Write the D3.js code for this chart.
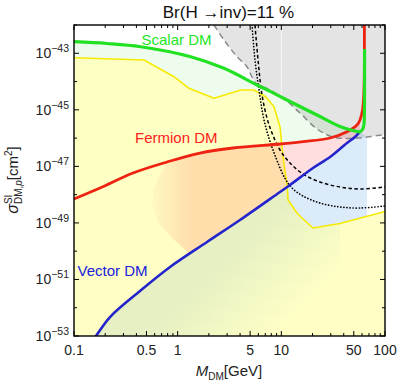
<!DOCTYPE html>
<html><head><meta charset="utf-8">
<script src="https://cdn.jsdelivr.net/npm/d3@7"></script>
<style>
body{margin:0;background:#fff}
svg{display:block}
text{font-family:"Liberation Sans",Arial,sans-serif}
</style>
</head><body>
<svg id="c" width="399" height="382"></svg>
<script>
// ---------------- data (mass in GeV, log10 of sigma in cm^2) ----------------
const scalarMass     = [0.1, 0.208, 0.44, 1.336, 2.80, 5.83, 8.50, 10.38, 22.1, 36.8, 49.1, 57.4, 61.0, 62.7, 63.3, 63.5, 63.5];
const scalarLogSigma = [-42.591, -42.654, -42.768, -43.121, -43.532, -44.122, -44.416, -44.582, -45.184, -45.590, -45.732, -45.774, -45.679, -45.502, -45.077, -44.299, -42.849];

const fermionMass     = [0.1, 0.178, 0.371, 0.789, 1.642, 3.42, 9.71, 16.18, 29.5, 43.0, 53.7, 57.4, 60.7, 62.0, 63.0, 63.3, 63.3];
const fermionLogSigma = [-48.155, -47.766, -47.235, -46.846, -46.528, -46.351, -46.209, -46.128, -45.997, -45.774, -45.537, -45.360, -45.007, -44.653, -43.946, -42.884, -42.0];

const vectorMass     = [0.1408, 0.163, 0.2225, 0.433, 0.844, 1.919, 3.99, 9.71, 12.12, 20.2, 29.5, 43.0, 51.3, 57.4];
const vectorLogSigma = [-53.32, -53.0, -52.329, -51.409, -50.560, -49.676, -48.898, -47.907, -47.660, -47.058, -46.669, -46.174, -45.962, -45.774];

// yellow contour
const yellowMass     = [0.1, 0.473, 0.922, 1.286, 2.24, 4.06, 5.45, 7.07, 8.50, 9.71, 10.15, 10.8, 11.42, 11.6, 14.17, 15.48, 20.2, 36.8, 100];
const yellowLogSigma = [-43.157, -43.238, -43.829, -44.239, -44.593, -44.299, -44.299, -44.536, -44.890, -45.608, -46.305, -47.129, -47.720, -48.190, -48.650, -48.792, -49.181, -49.022, -48.597];

// gray dashed exclusion boundary
const grayMass     = [2.24, 2.80, 3.735, 4.665, 5.10, 5.70, 7.27, 10.38, 15.14, 22.1, 31.5, 45.97, 67.0, 100];
const grayLogSigma = [-42.0, -42.531, -43.121, -43.475, -43.769, -44.062, -44.246, -44.582, -45.113, -45.679, -45.962, -46.015, -45.962, -45.873];

// black dotted and dashed curves
const dottedMass     = [5.21, 5.57, 6.09, 6.65, 7.44, 8.89, 10.8, 12.67, 16.18, 23.6, 36.8, 57.4, 100];
const dottedLogSigma = [-42.0, -43.238, -44.299, -45.184, -45.891, -46.705, -47.412, -47.766, -48.049, -48.297, -48.438, -48.473, -48.403];
const dashedMass     = [5.57, 5.96, 6.51, 7.27, 8.13, 9.71, 12.12, 16.18, 23.6, 36.8, 57.4, 100];
const dashedLogSigma = [-42.0, -43.238, -44.476, -45.290, -45.820, -46.421, -46.881, -47.270, -47.553, -47.730, -47.801, -47.730];

// extents of scatter regions
const fermionEdgeMass     = [1.3, 0.882, 0.646, 0.566, 0.578, 0.675];
const fermionEdgeLogSigma = [-50.08, -49.535, -48.969, -48.367, -47.837, -47.306];
const vectorYellowCross   = [11.45, -47.716];
const vectorRightEdgeMass = 67.0;
const vectorRightEdgeLogSigma = [-45.962, -48.767];
const vectorFadeMass = 36.8;

// ticks
const xMajorTicks = [0.1, 0.5, 1, 5, 10, 50, 100];
const xTickLabels = ["0.1", "0.5", "1", "5", "10", "50", "100"];
const xMinorTicks = [0.2,0.3,0.4,0.6,0.7,0.8,0.9,2,3,4,6,7,8,9,20,30,40,60,70,80,90];
const yLabelExps  = [-43, -45, -47, -49, -51, -53];
const yMinorExps  = [-42, -44, -46, -48, -50, -52];

const title = "Br(H \u2192inv)=11 %";

// ---------------- drawing ----------------
const L = 74, R = 385, T = 25, B = 336;
const svg = d3.select("#c");
const x = d3.scaleLog().domain([0.1, 100]).range([L, R]);
const y = d3.scaleLog().domain([1e-53, 1e-42]).range([B, T]);
const pw = v => Math.pow(10, v);
const pts = (ms, ls) => ms.map((m, i) => [x(m), y(pw(ls[i]))]);
const cr = d3.curveCatmullRom.alpha(0.5);
const lin = d3.curveLinear;
const seg = (p, c) => d3.line().curve(c)(p);
const region = parts => parts.map((p, i) => { const s = seg(p.pts, p.curve); return i ? "L" + s.slice(1) : s; }).join("") + "Z";

const defs = svg.append("defs");
defs.append("clipPath").attr("id", "clip").append("rect")
  .attr("x", L).attr("y", T).attr("width", R - L).attr("height", B - T);
const grad = defs.append("linearGradient").attr("id", "vg").attr("gradientUnits", "userSpaceOnUse")
  .attr("x1", 238).attr("y1", 248).attr("x2", 300).attr("y2", 312);
grad.append("stop").attr("offset", 0).attr("stop-color", "#e6f0fc").attr("stop-opacity", 1);
grad.append("stop").attr("offset", 1).attr("stop-color", "#e6f0fc").attr("stop-opacity", 0);
const fgrad = defs.append("linearGradient").attr("id", "fg").attr("gradientUnits", "userSpaceOnUse")
  .attr("x1", 150).attr("y1", 0).attr("x2", 190).attr("y2", 0);
fgrad.append("stop").attr("offset", 0).attr("stop-color", "#ffdedf").attr("stop-opacity", 0.15);
fgrad.append("stop").attr("offset", 1).attr("stop-color", "#ffdedf").attr("stop-opacity", 1);

const g = svg.append("g").attr("clip-path", "url(#clip)");

const S = pts(scalarMass, scalarLogSigma);
const F = pts(fermionMass, fermionLogSigma);
const V = pts(vectorMass, vectorLogSigma);
const Y = pts(yellowMass, yellowLogSigma);
const G = pts(grayMass, grayLogSigma);

// scalar scatter region (between green and red lines)
g.append("path").attr("fill", "#eefcee")
  .attr("d", region([{pts: S.slice(0, 11), curve: cr}, {pts: F.slice(0, 10).reverse(), curve: cr}]));

// yellow region
g.append("path").attr("fill", "rgb(255,255,188)").attr("fill-opacity", 0.86)
  .attr("d", region([{pts: Y, curve: lin}, {pts: [[x(100), y(pw(-53.5))], [x(0.1), y(pw(-53.5))]], curve: lin}]));

// fermion scatter region (pink, multiply)
g.append("path").attr("fill", "url(#fg)").style("mix-blend-mode", "multiply")
  .attr("d", region([
    {pts: F.slice(3, 12), curve: cr},
    {pts: V.slice(5).reverse(), curve: cr},
    {pts: pts(fermionEdgeMass, fermionEdgeLogSigma), curve: lin}
  ]));

// vector scatter region under yellow (fading)
const cross = [x(vectorYellowCross[0]), y(pw(vectorYellowCross[1]))];
g.append("path").attr("fill", "url(#vg)").style("mix-blend-mode", "multiply")
  .attr("d", region([
    {pts: V.slice(0, 8).concat([cross]), curve: cr},
    {pts: Y.slice(13, 18).concat([[x(vectorFadeMass), y(pw(-53.5))], [x(vectorMass[0]), y(pw(-53.5))]]), curve: lin}
  ]));
// vector scatter region above yellow
g.append("path").attr("fill", "#dcebfa").style("mix-blend-mode", "multiply")
  .attr("d", region([
    {pts: [cross].concat(V.slice(8)), curve: cr},
    {pts: [[x(vectorRightEdgeMass), y(pw(vectorRightEdgeLogSigma[0]))], [x(vectorRightEdgeMass), y(pw(vectorRightEdgeLogSigma[1]))]].concat(Y.slice(13, 18).reverse()), curve: lin}
  ]));

// gray excluded region
g.append("path").attr("fill", "#000").attr("fill-opacity", 0.107)
  .attr("d", region([{pts: G, curve: cr}, {pts: [G[G.length - 1], [x(100), y(1e-42)]], curve: lin}]));
g.append("line").attr("x1", x(10)).attr("x2", x(10)).attr("y1", y(1e-42)).attr("y2", y(pw(-44.55)))
  .attr("stroke", "#fff").attr("stroke-opacity", 0.6).attr("stroke-width", 1);

// lines
const drawLine = (p, c, stroke, w, dash, cap) => {
  const el = g.append("path").attr("d", seg(p, c)).attr("fill", "none")
    .attr("stroke", stroke).attr("stroke-width", w).attr("stroke-linejoin", "round");
  if (dash) el.attr("stroke-dasharray", dash);
  el.attr("stroke-linecap", cap || "butt");
  return el;
};
drawLine(Y, lin, "#f6ea00", 1.6);
drawLine(G, cr, "#8a8a8a", 1.5, "6 4");
drawLine(pts(dottedMass, dottedLogSigma), cr, "#000", 1.7, "0.1 3", "round");
drawLine(pts(dashedMass, dashedLogSigma), cr, "#000", 1.5, "3.5 2.5");
drawLine(F, cr, "#ee2211", 2.8);
drawLine(V, cr, "#2424cc", 2.6);
drawLine(S, cr, "#22e022", 3.2);

// labels
const lab = (t, px, py, col) => svg.append("text").attr("x", px).attr("y", py).attr("fill", col)
  .style("font-size", "15px").text(t);
lab("Scalar DM", 141.5, 44.5, "#22e622");
lab("Fermion DM", 135, 142.5, "#ff2020");
lab("Vector DM", 77.5, 276, "#2020dd");

// frame
svg.append("rect").attr("x", L).attr("y", T).attr("width", R - L).attr("height", B - T)
  .attr("fill", "none").attr("stroke", "#000").attr("stroke-width", 1.4);

// ticks
const tk = svg.append("g").attr("stroke", "#000").attr("stroke-width", 1);
xMajorTicks.forEach(v => {
  tk.append("line").attr("x1", x(v)).attr("x2", x(v)).attr("y1", B).attr("y2", B - 5);
  tk.append("line").attr("x1", x(v)).attr("x2", x(v)).attr("y1", T).attr("y2", T + 5);
});
xMinorTicks.forEach(v => {
  tk.append("line").attr("x1", x(v)).attr("x2", x(v)).attr("y1", B).attr("y2", B - 3);
  tk.append("line").attr("x1", x(v)).attr("x2", x(v)).attr("y1", T).attr("y2", T + 3);
});
yLabelExps.forEach(e => {
  tk.append("line").attr("x1", L).attr("x2", L + 5).attr("y1", y(pw(e))).attr("y2", y(pw(e)));
  tk.append("line").attr("x1", R).attr("x2", R - 5).attr("y1", y(pw(e))).attr("y2", y(pw(e)));
});
yMinorExps.forEach(e => {
  tk.append("line").attr("x1", L).attr("x2", L + 3).attr("y1", y(pw(e))).attr("y2", y(pw(e)));
  tk.append("line").attr("x1", R).attr("x2", R - 3).attr("y1", y(pw(e))).attr("y2", y(pw(e)));
});

// tick labels
xMajorTicks.forEach((v, i) => {
  svg.append("text").attr("x", x(v)).attr("y", 354.5).attr("text-anchor", "middle")
    .style("font-size", "14px").attr("fill", "#222").text(xTickLabels[i]);
});
yLabelExps.forEach(e => {
  const t = svg.append("text").attr("x", 69).attr("y", y(pw(e)) + 5).attr("text-anchor", "end")
    .style("font-size", "14px").attr("fill", "#222");
  t.append("tspan").text("10");
  t.append("tspan").attr("dy", -6).style("font-size", "10.5px").text("\u2212" + Math.abs(e));
});

// title
svg.append("text").attr("x", 228.5).attr("y", 18).attr("text-anchor", "middle")
  .style("font-size", "17px").attr("fill", "#111").text(title);

// x axis title
const xt = svg.append("text").attr("x", 229).attr("y", 376).attr("text-anchor", "middle")
  .style("font-size", "15px").attr("fill", "#222");
xt.append("tspan").style("font-style", "italic").text("M");
xt.append("tspan").attr("dy", 4).style("font-size", "10px").text("DM");
xt.append("tspan").attr("dy", -4).text("[GeV]");

// y axis title
const yt = svg.append("text").attr("transform", "translate(18,180) rotate(-90)").attr("text-anchor", "middle")
  .style("font-size", "15px").attr("fill", "#222");
yt.append("tspan").style("font-style", "italic").style("font-size", "16px").text("\u03c3");
yt.append("tspan").attr("dy", -6).style("font-size", "10px").text("SI");
yt.append("tspan").attr("dx", -9.5).attr("dy", 10).style("font-size", "10px").text("DM,");
yt.append("tspan").style("font-size", "10px").style("font-style", "italic").text("p");
yt.append("tspan").attr("dy", -4).text("[cm");
yt.append("tspan").attr("dy", -6).style("font-size", "10px").text("2");
yt.append("tspan").attr("dy", 6).text("]");
</script>
</body></html>
